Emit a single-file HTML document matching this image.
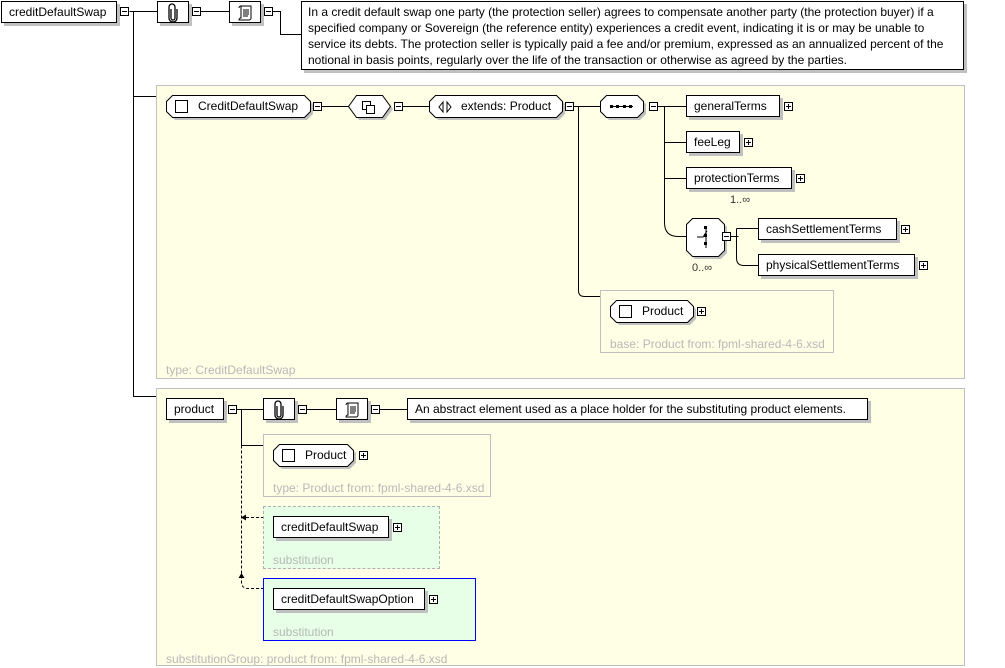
<!DOCTYPE html>
<html><head><meta charset="utf-8"><style>
body{margin:0;width:1005px;height:668px;background:#fff;position:relative;overflow:hidden;font-family:"Liberation Sans",sans-serif;font-size:12px;color:#000}
.a{position:absolute;box-sizing:border-box}
.b{position:absolute;box-sizing:border-box;background:#fff;border:1px solid #000;box-shadow:3px 3px 0 #c0c0c0;line-height:20px;padding-left:7px;white-space:nowrap}
.p{position:absolute;box-sizing:border-box;border:1px solid #c0c0c0;background:#ffffe6}
.lbl{position:absolute;color:#b8b8b8;font-size:12px;white-space:nowrap}
.m{position:absolute;width:9px;height:9px;box-sizing:border-box;border:1px solid #000;background:#fff}
.m:before{content:"";position:absolute;left:1px;top:3px;width:5px;height:1px;background:#000}
.pl:after{content:"";position:absolute;left:3px;top:1px;width:1px;height:5px;background:#000}
svg{position:absolute;left:0;top:0}
.ic{position:absolute;left:0;top:0}
</style></head><body>
<div class="p" style="left:156px;top:85px;width:809px;height:294px"></div>
<div class="lbl" style="left:166px;top:363px">type: CreditDefaultSwap</div>
<div class="p" style="left:156px;top:388px;width:809px;height:278px"></div>
<div class="lbl" style="left:166px;top:652px">substitutionGroup: product from: fpml-shared-4-6.xsd</div>
<div class="a" style="left:600px;top:290px;width:234px;height:63px;border:1px solid #c0c0c0"></div>
<div class="lbl" style="left:610px;top:337px">base: Product from: fpml-shared-4-6.xsd</div>
<div class="a" style="left:263px;top:434px;width:228px;height:63px;border:1px solid #c0c0c0"></div>
<div class="lbl" style="left:273px;top:481px">type: Product from: fpml-shared-4-6.xsd</div>
<div class="a" style="left:263px;top:506px;width:177px;height:63px;border:1px dashed #b0b0b0;background:#e6ffe6"></div>
<div class="lbl" style="left:273px;top:553px">substitution</div>
<div class="a" style="left:263px;top:578px;width:213px;height:63px;border:1px solid #0000ff;background:#e6ffe6"></div>
<div class="lbl" style="left:273px;top:625px">substitution</div>

<svg width="1005" height="668">
<g stroke="#000" fill="none" stroke-width="1">
<path d="M129.5 11.5H157M133.5 11.5V396.5H156M133.5 96.5H156M201 11.5H229M273 11.5H280.5V34.5H301"/>
<path d="M322 106.5H350M403 106.5H429M574 106.5H600M578.5 106.5V290.5Q578.5 296.5 584.5 296.5H600"/>
<path d="M658 106.5H686M664.5 106.5V222.5Q664.5 236.5 678 236.5H686M664.5 142.5H686M664.5 178.5H686"/>
<path d="M731 236.5H738.5M736.5 228.5H758M736.5 228.5V258Q736.5 265.5 744 265.5H758"/>
<path d="M237 409.5H263M241.5 409.5V445.5H263M307 409.5H336M380 409.5H407"/>
<path d="M241.5 445.5V582Q241.5 588.5 248 588.5H263M246 517.5H263" stroke-dasharray="3,2"/>
</g>
<path d="M241 517.5l5-3v6z" fill="#000"/>
<path d="M241.5 573l-3 5h6z" fill="#000"/>
<g fill="#c0c0c0"><path d="M175 98H307l6 6v10l-6 6H175l-6-6V104z"/><path d="M359 98h26l8 11-8 11h-26l-8-11z"/><path d="M438 98H559l6 6v10l-6 6H438l-6-6V104z"/><path d="M609 98h31l6 6v10l-6 6h-31l-6-6v-10z"/><path d="M695 221h26l6 6v26l-6 6h-26l-6-6v-26z"/><path d="M619 303h71l6 6v10l-6 6h-71l-6-6v-10z"/><path d="M282 447h68l6 6v10l-6 6h-68l-6-6v-10z"/></g>
<g fill="#fff" stroke="#000">
<path d="M172.5 95.5H304.5l6 6v10l-6 6H172.5l-6-6V101.5z"/>
<path d="M356.5 95.5h26l8 11-8 11h-26l-8-11z"/>
<path d="M435.5 95.5H556.5l6 6v10l-6 6H435.5l-6-6V101.5z"/>
<path d="M606.5 95.5h31l6 6v10l-6 6h-31l-6-6v-10z"/>
<path d="M692.5 218.5h26l6 6v26l-6 6h-26l-6-6v-26z"/>
<path d="M616.5 300.5h71l6 6v10l-6 6h-71l-6-6v-10z"/>
<path d="M279.5 444.5h68l6 6v10l-6 6h-68l-6-6v-10z"/>
<rect x="175.5" y="100.5" width="12" height="12"/>
<rect x="619.5" y="305.5" width="12" height="12"/>
<rect x="282.5" y="449.5" width="12" height="12"/>
<rect x="362.5" y="101.5" width="8" height="8"/><rect x="366.5" y="105.5" width="8" height="8"/>
</g>
<g stroke="#000" fill="none"><path d="M443 102l-4 5 4 5zM447 102l4 5-4 5zM611 106.5h22M697 237h6l4-6M706 228v20"/></g>
<g fill="#000"><rect x="610" y="105" width="3" height="3"/><rect x="616" y="105" width="3" height="3"/><rect x="623" y="105" width="3" height="3"/><rect x="629" y="105" width="3" height="3"/><rect x="704" y="226" width="3" height="3"/><rect x="704" y="234" width="3" height="3"/><rect x="704" y="242" width="3" height="3"/></g>
</svg>

<div class="b" style="left:1px;top:1px;width:116px;height:22px">creditDefaultSwap</div><div class="m" style="left:120px;top:7px"></div>
<div class="b" style="left:157px;top:1px;width:32px;height:22px;padding:0"><svg width="30" height="20" class="ic"><path d="M13 7v9a2 2 0 0 0 4 0V5a3 3 0 0 0-6 0v11a4 4 0 0 0 8 0V7" fill="none" stroke="#000" stroke-width="1.3"/></svg></div><div class="m" style="left:192px;top:7px"></div>
<div class="b" style="left:229px;top:1px;width:32px;height:22px;padding:0"><svg width="30" height="20" class="ic"><path d="M11 4h10v12a2 2 0 0 1-2 2H9a2 2 0 0 1 2-2zM11 4a2 2 0 0 0-2 2" fill="none" stroke="#000"/><path d="M13 8h6M13 10h6M13 12h6M13 14h5" stroke="#000"/></svg></div><div class="m" style="left:264px;top:7px"></div>
<div class="b" style="left:301px;top:1px;width:663px;height:69px;line-height:16px;padding:2px 6px;white-space:normal">In a credit default swap one party (the protection seller) agrees to compensate another party (the protection buyer) if a specified company or Sovereign (the reference entity) experiences a credit event, indicating it is or may be unable to service its debts. The protection seller is typically paid a fee and/or premium, expressed as an annualized percent of the notional in basis points, regularly over the life of the transaction or otherwise as agreed by the parties.</div>

<div class="a" style="left:198px;top:99px">CreditDefaultSwap</div><div class="m" style="left:313px;top:102px"></div>
<div class="m" style="left:394px;top:102px"></div>
<div class="a" style="left:461px;top:99px">extends: Product</div><div class="m" style="left:565px;top:102px"></div>
<div class="m" style="left:649px;top:102px"></div>
<div class="b" style="left:686px;top:95px;width:94px;height:22px">generalTerms</div><div class="m pl" style="left:784px;top:102px"></div>
<div class="b" style="left:686px;top:131px;width:54px;height:22px">feeLeg</div><div class="m pl" style="left:744px;top:138px"></div>
<div class="b" style="left:686px;top:167px;width:106px;height:22px">protectionTerms</div><div class="m pl" style="left:796px;top:174px"></div>
<div class="a" style="left:730px;top:194px;font-size:11px;color:#333">1..∞</div>
<div class="m" style="left:722px;top:232px"></div>
<div class="a" style="left:692px;top:262px;font-size:11px;color:#333">0..∞</div>
<div class="b" style="left:758px;top:218px;width:139px;height:22px">cashSettlementTerms</div><div class="m pl" style="left:901px;top:225px"></div>
<div class="b" style="left:758px;top:254px;width:157px;height:22px">physicalSettlementTerms</div><div class="m pl" style="left:919px;top:261px"></div>
<div class="a" style="left:642px;top:304px">Product</div><div class="m pl" style="left:697px;top:307px"></div>

<div class="b" style="left:166px;top:398px;width:58px;height:22px">product</div><div class="m" style="left:228px;top:405px"></div>
<div class="b" style="left:263px;top:398px;width:32px;height:22px;padding:0"><svg width="30" height="20" class="ic"><path d="M13 7v9a2 2 0 0 0 4 0V5a3 3 0 0 0-6 0v11a4 4 0 0 0 8 0V7" fill="none" stroke="#000" stroke-width="1.3"/></svg></div><div class="m" style="left:298px;top:405px"></div>
<div class="b" style="left:336px;top:398px;width:32px;height:22px;padding:0"><svg width="30" height="20" class="ic"><path d="M11 4h10v12a2 2 0 0 1-2 2H9a2 2 0 0 1 2-2zM11 4a2 2 0 0 0-2 2" fill="none" stroke="#000"/><path d="M13 8h6M13 10h6M13 12h6M13 14h5" stroke="#000"/></svg></div><div class="m" style="left:371px;top:405px"></div>
<div class="b" style="left:407px;top:398px;width:461px;height:22px">An abstract element used as a place holder for the substituting product elements.</div>
<div class="a" style="left:305px;top:448px">Product</div><div class="m pl" style="left:359px;top:451px"></div>
<div class="b" style="left:273px;top:516px;width:116px;height:22px">creditDefaultSwap</div><div class="m pl" style="left:393px;top:523px"></div>
<div class="b" style="left:273px;top:588px;width:152px;height:22px">creditDefaultSwapOption</div><div class="m pl" style="left:429px;top:595px"></div>
</body></html>
